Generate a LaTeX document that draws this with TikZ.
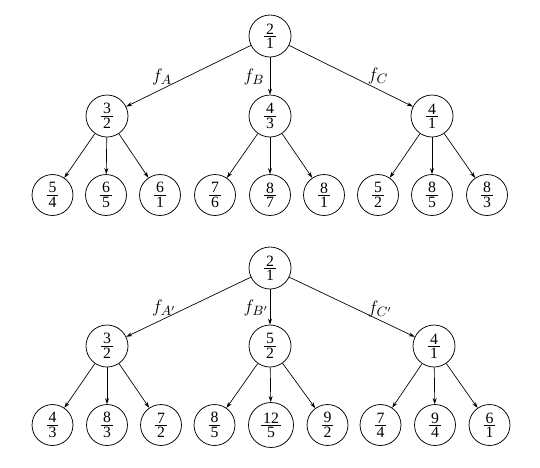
\documentclass[tikz,border=0pt]{standalone}
\usepackage{fontspec}
\setmainfont{Liberation Serif}
\usetikzlibrary{arrows.meta}
\newcommand\fr[2]{$\vcenter{\offinterlineskip\halign{\hfil\kern1.2pt##\kern1.2pt\hfil\cr #1\cr\noalign{\kern1.1pt\hrule\kern1.1pt}#2\cr}}$}
\begin{document}
\begin{tikzpicture}[x=0.6667pt,y=-0.6667pt,
  nd/.style={circle,draw,line width=0.5pt,minimum size=28pt,inner sep=0pt,font=\fontsize{10.5}{12}\selectfont},
  lf/.style={nd,minimum size=27.3pt},
  big/.style={nd,minimum size=30pt},
  ar/.style={-{Stealth[length=4pt,width=2.6pt]},line width=0.45pt},
  lab/.style={inner sep=0pt,font=\fontsize{13}{15}\selectfont}]
\useasboundingbox (0,0) rectangle (540,467);
% top tree
\node[nd] (r) at (270,36) {\fr21};
\node[nd] (a) at (107,116) {\fr32};
\node[nd] (b) at (270,116) {\fr43};
\node[nd] (c) at (432,116) {\fr41};
\node[lf] (a1) at (52.5,195) {\fr54};
\node[lf] (a2) at (106,195) {\fr65};
\node[lf] (a3) at (160,195) {\fr61};
\node[lf] (b1) at (215,195) {\fr76};
\node[lf] (b2) at (270,195) {\fr87};
\node[lf] (b3) at (324,195) {\fr81};
\node[lf] (c1) at (378,195) {\fr52};
\node[lf] (c2) at (432,195) {\fr85};
\node[lf] (c3) at (487,195) {\fr83};
\draw[ar] (r) -- (a);
\draw[ar] (r) -- (b);
\draw[ar] (r) -- (c);
\foreach \p in {a,b,c}{\foreach \k in {1,2,3}{\draw[ar] (\p) -- (\p\k);}}
\node[lab] (la) at (162,77) {$f_A$};
\node[lab] (lb) at (254,77) {$f_B$};
\node[lab] (lc) at (378,76) {$f_C$};
% bottom tree
\node[nd] (R) at (270,268) {\fr21};
\node[nd] (A) at (107,346) {\fr32};
\node[nd] (B) at (270,346) {\fr52};
\node[nd] (C) at (434,346) {\fr41};
\node[lf] (A1) at (52.5,425) {\fr43};
\node[lf] (A2) at (107,425) {\fr83};
\node[lf] (A3) at (161,425) {\fr72};
\node[lf] (B1) at (214.5,425) {\fr85};
\node[big] (B2) at (271,425) {\fr{12}5};
\node[lf] (B3) at (327.5,425) {\fr92};
\node[lf] (C1) at (380.5,425) {\fr74};
\node[lf] (C2) at (435,425) {\fr94};
\node[lf] (C3) at (489.5,425) {\fr61};
\draw[ar] (R) -- (A);
\draw[ar] (R) -- (B);
\draw[ar] (R) -- (C);
\foreach \p in {A,B,C}{\foreach \k in {1,2,3}{\draw[ar] (\p) -- (\p\k);}}
\node[lab] (lA) at (164,308) {$f_{A'}$};
\node[lab] (lB) at (256,308) {$f_{B'}$};
\node[lab] (lC) at (380,309) {$f_{C'}$};
\end{tikzpicture}
\end{document}
